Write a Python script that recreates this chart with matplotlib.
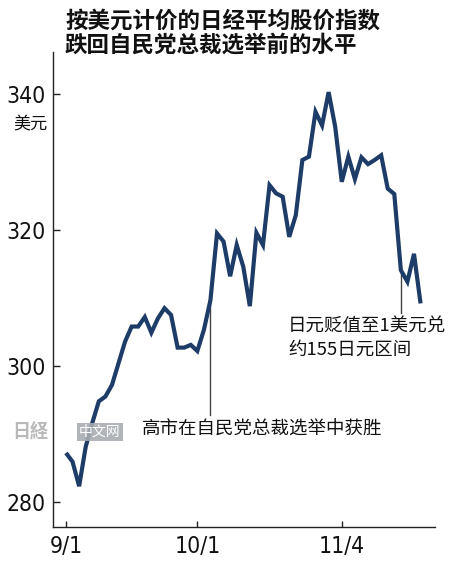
import matplotlib
matplotlib.use("Agg")
import matplotlib.pyplot as plt
from matplotlib import font_manager as fm

plt.rcParams['font.family'] = ['Noto Sans CJK SC', 'DejaVu Sans']

# trading days shown on the chart (Sep 1 - Nov 20)
dates = ["9/1", "9/2", "9/3", "9/4", "9/5", "9/8", "9/9", "9/10", "9/11", "9/12",
         "9/16", "9/17", "9/18", "9/19", "9/22", "9/24", "9/25", "9/26", "9/29", "9/30",
         "10/1", "10/2", "10/3", "10/6", "10/7", "10/8", "10/9", "10/10", "10/14", "10/15",
         "10/16", "10/17", "10/20", "10/21", "10/22", "10/23", "10/24", "10/27", "10/28",
         "10/29", "10/30", "10/31", "11/4", "11/5", "11/6", "11/7", "11/10", "11/11",
         "11/12", "11/13", "11/14", "11/17", "11/18", "11/19", "11/20"]

# Nikkei average in dollar terms
usd_nikkei = [287.2, 285.9, 282.3, 288.1, 291.6, 294.8, 295.5, 297.2, 300.4, 303.6,
              305.8, 305.8, 307.2, 304.9, 307.0, 308.5, 307.5, 302.7, 302.7, 303.1,
              302.2, 305.3, 309.7, 319.5, 318.3, 313.2, 317.8, 314.6, 308.8, 319.6,
              317.8, 326.6, 325.4, 324.9, 319.0, 322.2, 330.3, 330.8, 337.4, 335.4,
              340.3, 335.2, 327.1, 330.8, 327.5, 330.7, 329.7, 330.3, 331.0, 326.1,
              325.3, 314.1, 312.4, 316.5, 309.2]

y_ticks = [280, 300, 320, 340]
x_tick_dates = ["9/1", "10/1", "11/4"]

note_election = "高市在自民党总裁选举中获胜"
note_election_date = "10/3"
note_yen = ["日元贬值至1美元兑", "约155日元区间"]
note_yen_date = "11/17"

title_lines = ["按美元计价的日经平均股价指数", "跌回自民党总裁选举前的水平"]

# narrow font for the numbers, whatever is on the machine
installed = fm.fontManager.ttflist
names = {f.name for f in installed}
if "Liberation Sans Narrow" in names:
    num_kw = dict(family="Liberation Sans Narrow")
elif any(f.name == "DejaVu Sans" and "condensed" in str(f.stretch) for f in installed):
    num_kw = dict(family="DejaVu Sans", stretch="condensed")
elif "Roboto Condensed" in names:
    num_kw = dict(family="Roboto Condensed")
else:
    num_kw = dict(family="Roboto")

fig = plt.figure(figsize=(4.5, 5.69), dpi=100)
ax = fig.add_axes([53/450, 1 - 527/569, (435 - 53)/450, (527 - 52)/569])

xs = list(range(len(dates)))
ax.plot(xs, usd_nikkei, color="#1d3c68", lw=3.0, solid_joinstyle="miter",
        solid_capstyle="butt", zorder=3)

ax.set_xlim(-1.98, 56.2)
ax.set_ylim(276.3, 346.2)

ax.spines["top"].set_visible(False)
ax.spines["right"].set_visible(False)
for s in ["left", "bottom"]:
    ax.spines[s].set_linewidth(1.0)
    ax.spines[s].set_color("#222222")

ax.set_yticks(y_ticks)
ax.set_yticklabels([str(v) for v in y_ticks], fontsize=16.5, color="#111111", **num_kw)
ax.set_xticks([dates.index(d) for d in x_tick_dates])
ax.set_xticklabels(x_tick_dates, fontsize=16.5, color="#111111", **num_kw)
ax.tick_params(axis="y", direction="in", length=5, width=1.0, pad=5.5, color="#222222")
ax.tick_params(axis="x", direction="in", length=4, width=1.0, pad=5.5, color="#222222")

# annotations
i1 = dates.index(note_election_date)
ax.plot([i1, i1], [usd_nikkei[i1], 292.8], color="#444444", lw=1.0, zorder=2)
ax.text(11.6, 290.6, note_election, fontsize=13.3, color="#111111",
        ha="left", va="center")

i2 = dates.index(note_yen_date)
ax.plot([i2, i2], [usd_nikkei[i2], 307.8], color="#444444", lw=1.0, zorder=2)
ax.text(33.8, 305.8, note_yen[0], fontsize=13.3, color="#111111",
        ha="left", va="center")
ax.text(33.8, 302.4, note_yen[1], fontsize=13.3, color="#111111",
        ha="left", va="center")

# unit and title
fig.text(13/450, 1 - 124/569, "美元", fontsize=12.3, color="#111111",
         ha="left", va="center")
fig.text(65/450, 1 - 20.7/569, title_lines[0], fontsize=16.2, fontweight="bold",
         color="#111111", ha="left", va="center")
fig.text(65/450, 1 - 45/569, title_lines[1], fontsize=16.2, fontweight="bold",
         color="#111111", ha="left", va="center")

# watermark
fig.text(12/450, 1 - 432/569, "日経", fontsize=13, fontweight="bold",
         color="#a8a8a8", ha="left", va="center", alpha=0.8)
fig.text(79/450, 1 - 432/569, "中文网", fontsize=10, color="white",
         ha="left", va="center",
         bbox=dict(boxstyle="square,pad=0.15", fc="#a9adb3", ec="none", alpha=0.9))

fig.savefig("out.png", dpi=100, facecolor="white")
